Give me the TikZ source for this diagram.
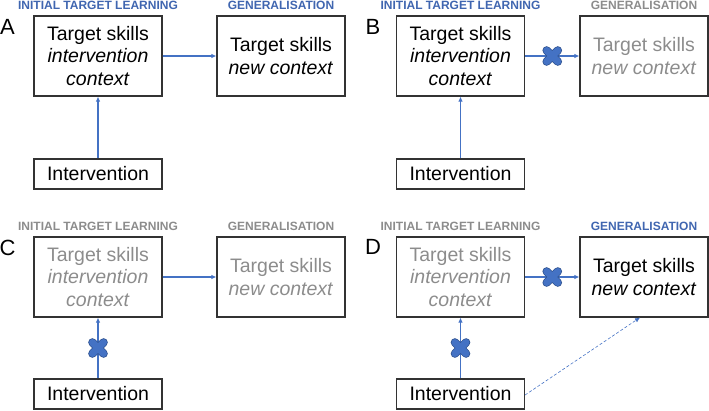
\documentclass[tikz,border=0pt]{standalone}
\usepackage{fontspec}
\setmainfont{Liberation Sans}
\usetikzlibrary{arrows.meta,positioning}

\definecolor{linkblue}{HTML}{4472C4}
\definecolor{headblue}{HTML}{4066B0}
\definecolor{crossedge}{HTML}{2F528F}
\definecolor{fadegray}{HTML}{8C8C8C}
\definecolor{boxline}{HTML}{333333}

\tikzset{
  box/.style={draw=boxline, line width=1.1pt, minimum width=128pt, minimum height=80pt,
    align=center, inner sep=0pt, font=\fontsize{19.5}{22.5}\selectfont},
  intv/.style={box, minimum height=30pt},
  faded/.style={text=fadegray},
  head/.style={font=\bfseries\fontsize{12}{14}\selectfont, text=headblue, inner sep=0pt},
  headfaded/.style={head, text=fadegray},
  tag/.style={font=\fontsize{22}{24}\selectfont, inner sep=0pt},
  link/.style={draw=linkblue, line width=1.2pt, -{Latex[length=5pt,width=4.5pt]}},
  weak/.style={draw=linkblue, line width=0.6pt, densely dashed, -{Latex[length=5pt,width=4.5pt]}}
}

% blue cross on a blocked link
\newcommand{\nogo}[1]{%
  \draw[crossedge, line width=8.4pt, line cap=round, shift={(#1)}] (-5.6,-5.6) -- (5.6,5.6) (-5.6,5.6) -- (5.6,-5.6);
  \draw[linkblue, line width=6.8pt, line cap=round, shift={(#1)}] (-5.6,-5.6) -- (5.6,5.6) (-5.6,5.6) -- (5.6,-5.6);}

\begin{document}
\begin{tikzpicture}[x=1pt,y=-1pt]
\useasboundingbox (0,0) rectangle (709,410);

% A
\node[tag] (tagA) at (7.5,27) {A};
\node[box] (a1) at (98,56) {Target skills\\ \textit{intervention}\\ \textit{context}};
\node[box] (a2) at (281,56) {Target skills\\ \textit{new context}};
\node[intv] (ai) at (98,174) {Intervention};
\node[head, above=5.5pt of a1] (ha1) {INITIAL TARGET LEARNING};
\node[head, above=5.5pt of a2] (ha2) {GENERALISATION};
\draw[link] (a1) -- (a2);
\draw[link] (ai) -- (a1);

% B
\node[tag] (tagB) at (373,27) {B};
\node[box] (b1) at (460.5,56) {Target skills\\ \textit{intervention}\\ \textit{context}};
\node[box, faded] (b2) at (644,56) {Target skills\\ \textit{new context}};
\node[intv] (bi) at (460.5,174) {Intervention};
\node[head, above=5.5pt of b1] (hb1) {INITIAL TARGET LEARNING};
\node[headfaded, above=5.5pt of b2] (hb2) {GENERALISATION};
\draw[link] (b1) -- coordinate[midway] (xb) (b2);
\draw[link] (bi) -- (b1);
\nogo{xb}

% C
\node[tag] (tagC) at (7.5,248) {C};
\node[box, faded] (c1) at (98,277) {Target skills\\ \textit{intervention}\\ \textit{context}};
\node[box, faded] (c2) at (281,277) {Target skills\\ \textit{new context}};
\node[intv] (ci) at (98,394) {Intervention};
\node[headfaded, above=5.5pt of c1] (hc1) {INITIAL TARGET LEARNING};
\node[headfaded, above=5.5pt of c2] (hc2) {GENERALISATION};
\draw[link] (c1) -- (c2);
\draw[link] (ci) -- coordinate[midway] (xc) (c1);
\nogo{xc}

% D
\node[tag] (tagD) at (373,247) {D};
\node[box, faded] (d1) at (460.5,277) {Target skills\\ \textit{intervention}\\ \textit{context}};
\node[box] (d2) at (644,277) {Target skills\\ \textit{new context}};
\node[intv] (di) at (460.5,394) {Intervention};
\node[headfaded, above=5.5pt of d1] (hd1) {INITIAL TARGET LEARNING};
\node[head, above=5.5pt of d2] (hd2) {GENERALISATION};
\draw[link] (d1) -- coordinate[midway] (xd1) (d2);
\draw[link] (di) -- coordinate[midway] (xd2) (d1);
\draw[weak] ([yshift=-1pt]di.east) -- ([xshift=-4pt]d2.south);
\nogo{xd1}
\nogo{xd2}
\end{tikzpicture}
\end{document}
